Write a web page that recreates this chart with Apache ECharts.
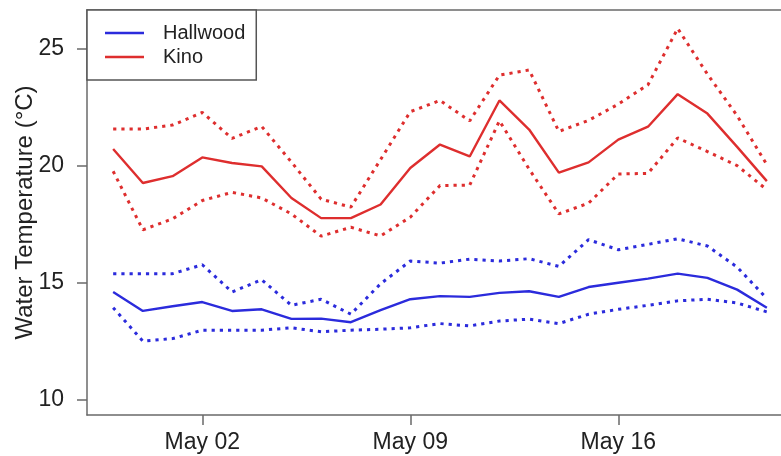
<!DOCTYPE html>
<html>
<head>
<meta charset="utf-8">
<title>Water Temperature</title>
<script src="https://cdn.jsdelivr.net/npm/echarts@6/dist/echarts.min.js"></script>
<style>
  html, body { margin: 0; padding: 0; background: #fff; }
  #chart { width: 781px; height: 456px; }
</style>
</head>
<body>
<div id="chart"></div>
<script>
// Daily sampling dates (month-day)
const dates = [
  "04-29", "04-30", "05-01", "05-02", "05-03", "05-04", "05-05", "05-06",
  "05-07", "05-08", "05-09", "05-10", "05-11", "05-12", "05-13", "05-14",
  "05-15", "05-16", "05-17", "05-18", "05-19", "05-20", "05-21"
];

// Hallwood: daily mean with upper / lower bounds (°C)
const hallwoodMean = [14.61, 13.80, 14.00, 14.18, 13.80, 13.87, 13.46, 13.47, 13.32, 13.83, 14.30, 14.43,
                      14.40, 14.57, 14.64, 14.40, 14.82, 15.00, 15.18, 15.39, 15.21, 14.71, 13.94];
const hallwoodHigh = [15.39, 15.39, 15.39, 15.77, 14.61, 15.13, 14.04, 14.30, 13.66, 14.96, 15.93, 15.84,
                      16.01, 15.93, 16.03, 15.70, 16.84, 16.41, 16.64, 16.88, 16.57, 15.67, 14.33];
const hallwoodLow  = [13.94, 12.51, 12.62, 12.98, 12.98, 12.98, 13.08, 12.91, 12.98, 13.02, 13.08, 13.26,
                      13.16, 13.37, 13.45, 13.26, 13.66, 13.87, 14.04, 14.23, 14.30, 14.14, 13.76];

// Kino: daily mean with upper / lower bounds (°C)
const kinoMean = [20.71, 19.26, 19.55, 20.35, 20.11, 19.97, 18.62, 17.76, 17.76, 18.34, 19.90, 20.90,
                  20.39, 22.78, 21.54, 19.70, 20.14, 21.11, 21.66, 23.05, 22.22, 20.80, 19.34];
const kinoHigh = [21.56, 21.56, 21.73, 22.27, 21.16, 21.67, 20.15, 18.57, 18.23, 20.26, 22.30, 22.78,
                  21.91, 23.86, 24.08, 21.46, 21.93, 22.62, 23.45, 25.85, 23.90, 22.13, 20.04];
const kinoLow  = [19.76, 17.26, 17.73, 18.51, 18.86, 18.62, 17.94, 16.99, 17.37, 17.00, 17.80, 19.15,
                  19.17, 21.91, 19.85, 17.94, 18.40, 19.64, 19.67, 21.18, 20.60, 20.00, 18.97];

// Axis ticks
const xTickDates = ["05-02", "05-09", "05-16"];
const yTicks = [10, 15, 20, 25];

const monthNames = ["Jan", "Feb", "Mar", "Apr", "May", "Jun", "Jul", "Aug", "Sep", "Oct", "Nov", "Dec"];
const DAY = 86400000;
const origin = Date.UTC(2000, 4, 0);

// Day number counted from the last day of April
function dayNum(md) {
  const [m, d] = md.split("-").map(Number);
  return (Date.UTC(2000, m - 1, d) - origin) / DAY;
}
function dayLabel(v) {
  const dt = new Date(origin + Math.round(v) * DAY);
  const d = dt.getUTCDate();
  return monthNames[dt.getUTCMonth()] + " " + (d < 10 ? "0" + d : d);
}

const xs = dates.map(dayNum);
const pairs = vals => xs.map((x, i) => [x, vals[i]]);

// Plot range padded 4% beyond the data / fixed y-limits
const xSpan = xs[xs.length - 1] - xs[0];
const xMin = xs[0] - 0.04 * xSpan;
const xMaxFull = xs[xs.length - 1] + 0.04 * xSpan;
const yLo = 10, yHi = 26;
const yMin = yLo - 0.04 * (yHi - yLo);
const yMax = yHi + 0.04 * (yHi - yLo);

// The plot frame runs past the right edge of the canvas; only part of it is shown
const W = 781, PLOT_LEFT = 87, FRAME_RIGHT = 793;
const xMax = xMin + (xMaxFull - xMin) * (W - PLOT_LEFT) / (FRAME_RIGHT - PLOT_LEFT);

const BLUE = "#2b2bdc";
const RED = "#de2e2e";
const AXIS = "#6a6a6a";
const FONT = "'Liberation Sans', Arial, Helvetica, sans-serif";

function solid(name, vals, color) {
  return {
    name, type: "line", data: pairs(vals), symbol: "none", smooth: false,
    lineStyle: { color, width: 2.4 }, itemStyle: { color }, z: 3
  };
}
function dotted(name, vals, color) {
  return {
    name, type: "line", data: pairs(vals), symbol: "none", smooth: false,
    lineStyle: { color, width: 3, type: [3.2, 5], cap: "butt" }, itemStyle: { color }, z: 2
  };
}

const chart = echarts.init(document.getElementById("chart"), null, { renderer: "canvas" });
chart.setOption({
  animation: false,
  backgroundColor: "#fff",
  textStyle: { fontFamily: FONT },
  grid: { left: PLOT_LEFT, top: 10, right: 0, bottom: 41, show: false, outerBoundsMode: "none", containLabel: false },
  legend: {
    data: ["Hallwood", "Kino"],
    orient: "vertical",
    left: PLOT_LEFT, top: 10,
    icon: "rect",
    itemWidth: 39, itemHeight: 2.5, itemGap: 4,
    padding: [13, 11, 13, 18],
    backgroundColor: "#fff",
    borderColor: "#555", borderWidth: 1.5, borderRadius: 0,
    textStyle: { fontSize: 20, lineHeight: 20, color: "#222", fontFamily: FONT, padding: [0, 0, 0, 14] }
  },
  xAxis: [
    {
      type: "value",
      position: "bottom",
      min: xMin, max: xMax,
      axisLine: { show: true, onZero: false, lineStyle: { color: AXIS, width: 1.5 } },
      splitLine: { show: false },
      axisTick: { show: true, length: 10, lineStyle: { color: AXIS, width: 1.5 }, customValues: xTickDates.map(dayNum) },
      axisLabel: {
        customValues: xTickDates.map(dayNum),
        formatter: v => dayLabel(v),
        fontSize: 23, color: "#222", margin: 16, fontFamily: FONT
      }
    },
    {
      // top edge of the plot frame
      type: "value",
      position: "top",
      min: xMin, max: xMax,
      axisLine: { show: true, onZero: false, lineStyle: { color: AXIS, width: 1.5 } },
      axisTick: { show: false },
      axisLabel: { show: false },
      splitLine: { show: false }
    }
  ],
  yAxis: {
    type: "value",
    min: yMin, max: yMax,
    name: "Water Temperature (°C)",
    nameLocation: "middle",
    nameGap: 50,
    nameMoveOverlap: false,
    nameTextStyle: { fontSize: 24, color: "#222", fontFamily: FONT },
    axisLine: { show: true, onZero: false, lineStyle: { color: AXIS, width: 1.5 } },
    splitLine: { show: false },
    axisTick: { show: true, length: 10, lineStyle: { color: AXIS, width: 1.5 }, customValues: yTicks },
    axisLabel: { customValues: yTicks, fontSize: 23, color: "#222", margin: 23, fontFamily: FONT }
  },
  series: [
    solid("Hallwood", hallwoodMean, BLUE),
    solid("Kino", kinoMean, RED),
    dotted("Hallwood upper", hallwoodHigh, BLUE),
    dotted("Hallwood lower", hallwoodLow, BLUE),
    dotted("Kino upper", kinoHigh, RED),
    dotted("Kino lower", kinoLow, RED)
  ]
});
</script>
</body>
</html>
